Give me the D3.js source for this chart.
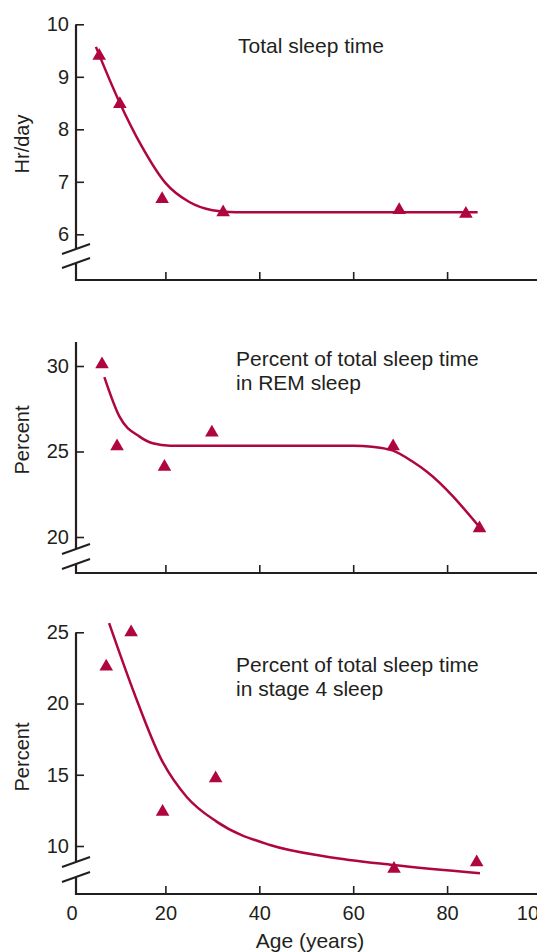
<!DOCTYPE html>
<html lang="en">
<head>
    <meta charset="UTF-8">
    <title>Sleep Patterns by Age</title>
    <script src="https://cdnjs.cloudflare.com/ajax/libs/d3/7.8.5/d3.min.js"></script>
    <style>
        body {
            margin: 0;
            background: #fff;
        }
        svg {
            display: block;
            font-family: "Liberation Sans", Arial, Helvetica, sans-serif;
        }
        .axis-line {
            stroke: #231f20;
            stroke-width: 2.2;
            fill: none;
        }
        .tick line {
            stroke: #231f20;
            stroke-width: 1.6;
        }
        .tick text {
            font-size: 20px;
            fill: #231f20;
        }
        .fit-line {
            stroke: #b0063f;
            stroke-width: 2.5;
            fill: none;
        }
        .marker {
            fill: #b0063f;
        }
        .panel-title {
            font-size: 21px;
            fill: #231f20;
        }
        .axis-title {
            font-size: 20px;
            fill: #231f20;
        }
    </style>
</head>
<body>
    <svg id="chart" width="537" height="952"></svg>

    <script>
        // --- Data ---
        const xTicks = [0, 20, 40, 60, 80, 100];

        // Total sleep time (hr/day)
        const totalAges = [5.9, 10.3, 19.3, 32.3, 69.8, 84.0];
        const totalHours = [9.4, 8.48, 6.67, 6.42, 6.46, 6.39];
        const totalFitAges = [5.2, 10, 15, 20, 25, 30, 35, 40, 86.5];
        const totalFitHours = [9.57, 8.56, 7.67, 6.98, 6.62, 6.46, 6.42, 6.42, 6.42];
        const totalTicks = [6, 7, 8, 9, 10];

        // Percent of total sleep time in REM sleep
        const remAges = [6.5, 9.7, 19.8, 29.9, 68.5, 86.9];
        const remPercent = [30.1, 25.3, 24.1, 26.1, 25.3, 20.5];
        const remFitAges = [7, 10.2, 14.5, 17.3, 21, 60, 64, 68.5, 72.7, 75.7, 87];
        const remFitPercent = [29.35, 27.05, 25.87, 25.48, 25.34, 25.34, 25.28, 25.05, 24.4, 23.82, 20.55];
        const remTicks = [20, 25, 30];

        // Percent of total sleep time in stage 4 sleep
        const stage4Ages = [7.4, 12.7, 19.4, 30.7, 68.7, 86.3];
        const stage4Percent = [22.6, 25.0, 12.4, 14.75, 8.4, 8.85];
        const stage4FitAges = [8, 13.5, 19.1, 24.5, 30.9, 42.3, 54.4, 68.5, 87];
        const stage4FitPercent = [25.65, 20.6, 16.1, 13.46, 11.71, 10.07, 9.25, 8.67, 8.09];
        const stage4Ticks = [10, 15, 20, 25];

        // --- Setup ---
        const svg = d3.select("#chart");
        const width = +svg.attr("width");
        const axisX = 76;

        const x = d3.scaleLinear().domain([0, 100]).range([71.5, 541]);

        const panels = [
            {
                ages: totalAges, values: totalHours,
                fitAges: totalFitAges, fitValues: totalFitHours,
                ticks: totalTicks,
                domain: [6, 10], range: [234.3, 24.3],
                top: null, bottom: 280, breaks: [249, 263],
                title: ["Total sleep time"], titleX: 238, titleY: 53,
                yLabel: "Hr/day", yLabelY: 144
            },
            {
                ages: remAges, values: remPercent,
                fitAges: remFitAges, fitValues: remFitPercent,
                ticks: remTicks,
                domain: [20, 30], range: [537, 366],
                top: 342, bottom: 573, breaks: [549, 564],
                title: ["Percent of total sleep time", "in REM sleep"], titleX: 236, titleY: 366,
                yLabel: "Percent", yLabelY: 440
            },
            {
                ages: stage4Ages, values: stage4Percent,
                fitAges: stage4FitAges, fitValues: stage4FitPercent,
                ticks: stage4Ticks,
                domain: [10, 25], range: [846, 632.3],
                top: null, bottom: 894, breaks: [862, 877],
                title: ["Percent of total sleep time", "in stage 4 sleep"], titleX: 236, titleY: 672,
                yLabel: "Percent", yLabelY: 757
            }
        ];

        const triangle = d3.symbol().type(d3.symbolTriangle).size(80);

        panels.forEach((p, i) => {
            const y = d3.scaleLinear().domain(p.domain).range(p.range);
            const g = svg.append("g");
            const top = p.top !== null ? p.top : y(p.domain[1]);

            // --- Axes (y axis broken by two slashes) ---
            g.append("line")
                .attr("class", "axis-line")
                .attr("x1", axisX).attr("y1", top)
                .attr("x2", axisX).attr("y2", p.breaks[0]);
            g.append("line")
                .attr("class", "axis-line")
                .attr("x1", axisX).attr("y1", p.breaks[1])
                .attr("x2", axisX).attr("y2", p.bottom + 1);
            p.breaks.forEach(b => {
                g.append("line")
                    .attr("class", "axis-line")
                    .style("stroke-width", 2)
                    .attr("x1", axisX - 14).attr("y1", b + 5)
                    .attr("x2", axisX + 14).attr("y2", b - 5);
            });
            g.append("line")
                .attr("class", "axis-line")
                .attr("x1", axisX - 1).attr("y1", p.bottom)
                .attr("x2", width).attr("y2", p.bottom);

            const yAxis = g.append("g")
                .attr("transform", `translate(${axisX},0)`)
                .call(d3.axisLeft(y).tickValues(p.ticks).tickSize(-8).tickPadding(7).tickFormat(d3.format("d")));
            yAxis.select(".domain").remove();

            const last = i === panels.length - 1;
            const xAxis = g.append("g")
                .attr("transform", `translate(0,${p.bottom})`)
                .call(d3.axisBottom(x).tickValues(xTicks).tickSize(-8).tickPadding(12));
            xAxis.select(".domain").remove();
            xAxis.selectAll(".tick").filter(d => d === 0 || d === 100).select("line").remove();
            if (!last) xAxis.selectAll(".tick text").remove();
            xAxis.selectAll(".tick text").attr("dy", "0.71em");
            // the "100" label sits a little left of its position, clipped by the edge
            xAxis.selectAll(".tick").filter(d => d === 100).select("text").attr("dx", -8);

            // --- Fitted curve ---
            const line = d3.line()
                .x(d => x(d[0]))
                .y(d => y(d[1]))
                .curve(d3.curveMonotoneX);
            g.append("path")
                .attr("class", "fit-line")
                .attr("d", line(d3.zip(p.fitAges, p.fitValues)));

            // --- Data points ---
            g.selectAll(".marker")
                .data(d3.zip(p.ages, p.values))
                .join("path")
                .attr("class", "marker")
                .attr("d", triangle)
                .attr("transform", d => `translate(${x(d[0])},${y(d[1])})`);

            // --- Labels ---
            p.title.forEach((t, j) => {
                g.append("text")
                    .attr("class", "panel-title")
                    .attr("x", p.titleX)
                    .attr("y", p.titleY + j * 23.5)
                    .text(t);
            });
            g.append("text")
                .attr("class", "axis-title")
                .attr("text-anchor", "middle")
                .attr("transform", `translate(29,${p.yLabelY}) rotate(-90)`)
                .text(p.yLabel);
        });

        svg.append("text")
            .attr("class", "panel-title")
            .attr("text-anchor", "middle")
            .attr("x", 310)
            .attr("y", 948)
            .text("Age (years)");
    </script>
</body>
</html>
